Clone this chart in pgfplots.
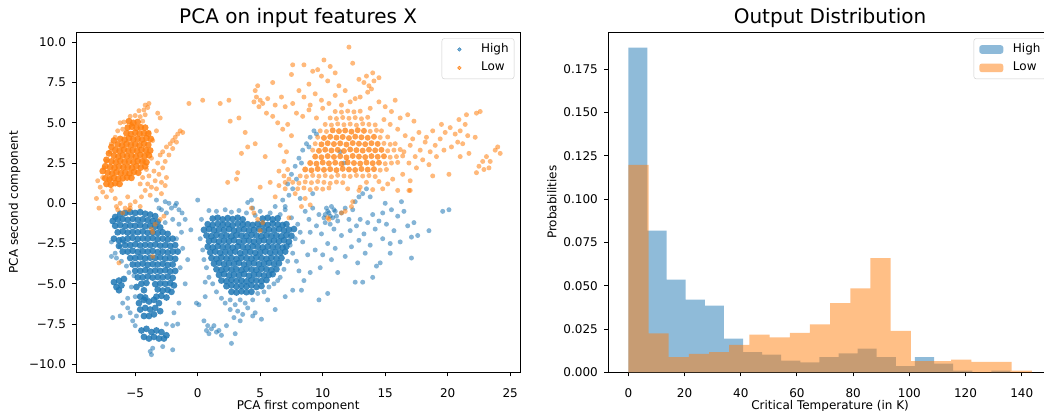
\documentclass[border=0pt]{standalone}
\usepackage{fontspec}
\setmainfont{DejaVu Sans}
\usepackage{pgfplots}
\pgfplotsset{compat=1.18}
\definecolor{c0}{HTML}{1F77B4}
\definecolor{c1}{HTML}{FF7F0E}
\pgfplotsset{
 every axis title shift=0pt,
 mpl/.style={
  scale only axis, width=443.7pt, height=340pt,
  axis line style={black, line width=0.9pt},
  tick align=outside, tick pos=left,
  major tick length=4.2pt,
  every tick/.style={black, line width=0.9pt},
  tick label style={font=\fontsize{12}{14}\selectfont, inner sep=0pt},
  xticklabel style={anchor=base, yshift=-21.2pt},
  yticklabel style={anchor=east, xshift=-6pt},
  label style={font=\fontsize{12}{14}\selectfont, inner sep=0pt},
  title style={font=\fontsize{20}{23}\selectfont, at={(axis description cs:0.5,1.0244)}, anchor=base, inner sep=0pt},
  xlabel style={at={(axis description cs:0.5,-0.108)}, anchor=base},
  legend cell align=left,
  legend style={at={(axis description cs:1,1)}, anchor=north east, xshift=-5.7pt, yshift=-6pt,
    draw=black!20, fill=white, rounded corners=2.5pt, inner xsep=5.5pt, inner ysep=5pt,
    row sep=6.4pt, column sep=9.6pt, font=\fontsize{12}{14}\selectfont,
    nodes={inner sep=0pt, text height=9pt, text depth=3pt}},
 },
 bluedot/.style 2 args={only marks, mark=*, color=c0, mark size=#1, mark options={fill=c0, fill opacity=#2, draw opacity=0}},
 orangedot/.style 2 args={only marks, mark=*, color=c1, mark size=#1, mark options={fill=c1, fill opacity=#2, draw opacity=0}},
}
\begin{document}
\begin{tikzpicture}
\useasboundingbox (0,0) rectangle (1044pt,411pt);
\clip (0,0) rectangle (1044pt,411pt);
\begin{axis}[mpl, at={(76.3pt,38.7pt)}, anchor=south west,
  xmin=-9.712, xmax=25.784, ymin=-10.497, ymax=10.621,
  xtick={-5,0,5,10,15,20,25}, xticklabels={−5,0,5,10,15,20,25},
  ytick={-10,-7.5,-5,-2.5,0,2.5,5,7.5,10},
  yticklabels={−10.0,−7.5,−5.0,−2.5,0.0,2.5,5.0,7.5,10.0},
  title={PCA on input features X},
  xlabel={PCA first component}, ylabel={PCA second component},
  ylabel style={at={(axis description cs:-0.1318,0.5)}, anchor=base},
]
% High: dense cores
\addplot[bluedot={3.4pt}{0.85}, forget plot] coordinates {
(1.2,-0.95)(1.6,-0.9)(2.0,-1.0)(2.4,-0.92)(2.8,-0.98)(3.2,-0.9)(3.6,-1.0)(5.2,-0.95)(5.6,-0.9)(6.0,-1.0)(6.4,-0.93)
(0.8,-1.3)(1.2,-1.35)(1.6,-1.28)(2.0,-1.33)(2.4,-1.3)(2.8,-1.36)(3.2,-1.27)(3.6,-1.32)(4.0,-1.3)(4.4,-1.35)(4.8,-1.28)(5.2,-1.3)(5.6,-1.34)(6.0,-1.27)(6.4,-1.31)(6.8,-1.35)(7.1,-1.3)
(0.5,-1.65)(0.9,-1.6)(1.3,-1.68)(1.7,-1.63)(2.1,-1.66)(2.5,-1.6)(2.9,-1.7)(3.3,-1.64)(3.7,-1.62)(4.1,-1.68)(4.5,-1.65)(4.9,-1.6)(5.3,-1.67)(5.7,-1.63)(6.1,-1.66)(6.5,-1.6)(6.9,-1.69)(7.3,-1.64)(7.7,-1.6)
(0.7,-2.0)(1.1,-2.04)(1.5,-1.97)(1.9,-2.02)(2.3,-2.0)(2.7,-2.05)(3.1,-1.98)(3.5,-2.01)(3.9,-2.03)(4.3,-1.97)(4.7,-2.0)(5.1,-2.04)(5.5,-1.99)(5.9,-2.02)(6.3,-2.0)(6.7,-2.05)(7.1,-1.98)(7.5,-2.02)
(0.9,-2.35)(1.3,-2.3)(1.7,-2.38)(2.1,-2.33)(2.5,-2.36)(2.9,-2.3)(3.3,-2.4)(3.7,-2.34)(4.1,-2.32)(4.5,-2.38)(4.9,-2.35)(5.3,-2.3)(5.7,-2.37)(6.1,-2.33)(6.5,-2.36)(6.9,-2.3)(7.3,-2.38)
(0.8,-2.7)(1.2,-2.74)(1.6,-2.67)(2.0,-2.72)(2.4,-2.7)(2.8,-2.75)(3.2,-2.68)(3.6,-2.71)(4.0,-2.73)(4.4,-2.67)(4.8,-2.7)(5.2,-2.74)(5.6,-2.69)(6.0,-2.72)(6.4,-2.7)(6.8,-2.75)(7.1,-2.68)
(1.0,-3.05)(1.4,-3.0)(1.8,-3.08)(2.2,-3.03)(2.6,-3.06)(3.0,-3.0)(3.4,-3.1)(3.8,-3.04)(4.2,-3.02)(4.6,-3.08)(5.0,-3.05)(5.4,-3.0)(5.8,-3.07)(6.2,-3.03)(6.6,-3.06)(7.0,-3.0)
(1.1,-3.4)(1.5,-3.44)(1.9,-3.37)(2.3,-3.42)(2.7,-3.4)(3.1,-3.45)(3.5,-3.38)(3.9,-3.41)(4.3,-3.43)(4.7,-3.37)(5.1,-3.4)(5.5,-3.44)(5.9,-3.39)(6.3,-3.42)(6.7,-3.4)
(1.3,-3.75)(1.7,-3.7)(2.1,-3.78)(2.5,-3.73)(2.9,-3.76)(3.3,-3.7)(3.7,-3.8)(4.1,-3.74)(4.5,-3.72)(4.9,-3.78)(5.3,-3.75)(5.7,-3.7)(6.1,-3.77)(6.5,-3.73)
(1.5,-4.1)(1.9,-4.14)(2.3,-4.07)(2.7,-4.12)(3.1,-4.1)(3.5,-4.15)(3.9,-4.08)(4.3,-4.11)(4.7,-4.13)(5.1,-4.07)(5.5,-4.1)(5.9,-4.14)(6.3,-4.09)
(1.7,-4.45)(2.1,-4.4)(2.5,-4.48)(2.9,-4.43)(3.3,-4.46)(3.7,-4.4)(4.1,-4.5)(4.5,-4.44)(4.9,-4.42)(5.3,-4.48)(5.7,-4.45)(6.0,-4.4)
(1.9,-4.8)(2.3,-4.84)(2.7,-4.77)(3.1,-4.82)(3.5,-4.8)(3.9,-4.85)(4.3,-4.78)(4.7,-4.81)(5.1,-4.83)(5.5,-4.77)
(2.3,-5.15)(2.7,-5.1)(3.1,-5.18)(3.5,-5.13)(3.9,-5.16)(4.3,-5.1)(4.7,-5.2)(5.1,-5.14)
(2.7,-5.5)(3.1,-5.54)(3.5,-5.47)(3.9,-5.52)(4.3,-5.5)
(-6.6,-0.85)(-6.2,-0.65)(-5.8,-0.6)(-5.4,-0.55)(-5.0,-0.6)(-4.6,-0.55)(-4.2,-0.65)(-3.8,-0.7)(-3.4,-0.8)
(-6.8,-1.1)(-6.4,-1.0)(-6.0,-0.98)(-5.6,-1.03)(-5.2,-0.97)(-4.8,-1.02)(-4.4,-1.0)(-4.0,-1.05)(-3.6,-1.1)(-3.2,-1.15)
(-6.6,-1.4)(-6.2,-1.35)(-5.8,-1.42)(-5.4,-1.38)(-5.0,-1.4)(-4.6,-1.36)(-4.2,-1.43)(-3.8,-1.4)(-3.4,-1.45)(-3.0,-1.5)
(-6.4,-1.8)(-6.0,-1.75)(-5.6,-1.82)(-5.2,-1.78)(-4.8,-1.8)(-4.4,-1.76)(-4.0,-1.83)(-3.6,-1.8)(-3.2,-1.85)(-2.8,-1.8)(-2.4,-1.9)
(-6.7,-2.2)(-6.3,-2.3)(-6.0,-2.25)(-5.6,-2.2)(-5.2,-2.15)(-4.8,-2.22)(-4.4,-2.18)(-4.0,-2.2)(-3.6,-2.16)(-3.2,-2.23)(-2.8,-2.2)(-2.4,-2.25)(-2.0,-2.2)
(-6.3,-2.65)(-5.8,-2.6)(-5.4,-2.6)(-5.0,-2.55)(-4.6,-2.62)(-4.2,-2.58)(-3.8,-2.6)(-3.4,-2.56)(-3.0,-2.63)(-2.6,-2.6)(-2.2,-2.65)(-1.8,-2.6)
(-6.0,-3.0)(-5.6,-3.0)(-5.2,-2.95)(-4.8,-3.02)(-4.4,-2.98)(-4.0,-3.0)(-3.6,-2.96)(-3.2,-3.03)(-2.8,-3.0)(-2.4,-3.05)(-2.0,-3.0)(-1.6,-3.0)
(-5.4,-3.4)(-5.0,-3.4)(-4.6,-3.35)(-4.2,-3.42)(-3.8,-3.38)(-3.4,-3.4)(-3.0,-3.36)(-2.6,-3.43)(-2.2,-3.4)(-1.8,-3.45)
(-5.2,-3.8)(-4.8,-3.8)(-4.4,-3.75)(-4.0,-3.82)(-3.6,-3.78)(-3.2,-3.8)(-2.8,-3.76)(-2.4,-3.83)(-2.0,-3.8)
(-5.0,-4.2)(-4.6,-4.2)(-4.2,-4.15)(-3.8,-4.22)(-3.4,-4.18)(-3.0,-4.2)(-2.6,-4.16)(-2.2,-4.23)(-1.8,-4.2)
(-4.8,-4.6)(-4.4,-4.6)(-4.0,-4.55)(-3.6,-4.62)(-3.2,-4.58)(-2.8,-4.6)(-2.4,-4.56)(-2.0,-4.63)
(-4.9,-5.2)(-4.5,-5.0)(-4.1,-4.95)(-3.4,-5.02)(-3.0,-4.98)(-2.6,-5.0)(-2.2,-4.96)(-1.9,-5.1)
(-4.3,-5.4)(-3.2,-5.35)(-2.8,-5.42)(-2.4,-5.38)(-2.1,-5.5)
(-4.6,-5.8)(-4.2,-5.85)(-3.3,-5.8)(-2.9,-5.75)(-2.5,-5.85)
(-4.7,-6.2)(-4.3,-6.0)(-3.9,-6.1)(-3.5,-6.0)(-3.1,-6.2)(-4.6,-6.6)(-4.2,-6.5)(-3.8,-6.6)(-3.4,-6.5)(-3.0,-6.7)(-4.3,-7.0)(-3.9,-7.0)(-3.5,-6.9)
(-4.5,-7.9)(-4.1,-7.8)(-3.7,-8.0)(-3.3,-7.9)(-2.9,-8.0)(-2.5,-8.2)(-4.3,-8.3)(-3.9,-8.4)(-3.5,-8.3)(-3.1,-8.4)(-2.7,-8.4)
(-6.7,-4.9)(-6.3,-4.8)(-6.5,-5.2)(-6.1,-5.1)(-6.3,-5.4)(-5.9,-4.7)
};
% High: sparse points
\addplot[bluedot={2.5pt}{0.55},
  legend image code/.code={\path[draw=none] (0pt,-4pt) rectangle (24pt,4pt); \fill[c0, fill opacity=0.55] (12pt,0pt) circle (1.8pt);}]
coordinates {
(-6.6,-3.1)
(0,0.2)(0.9,-0.45)(1.5,-0.5)(2.2,-0.4)(2.7,-0.55)(3.3,-0.45)(3.9,-0.6)(4.4,-0.3)(4.6,-0.75)(5.0,-0.5)(5.8,-0.6)(6.6,-0.7)(7.0,-0.4)(6.2,-0.2)(7.5,-0.9)(4.3,0.2)(4.0,0.05)
(0.3,-1.0)(0.2,-2.2)(0.4,-2.9)(0.5,-3.5)(0.7,-4.0)(0.9,-4.6)(1.2,-5.0)(0.6,-4.9)
(1.5,-5.5)(1.9,-5.9)(2.2,-6.2)(2.6,-6.0)(3.0,-6.3)(3.4,-6.0)(3.8,-6.2)(4.4,-6.0)(4.8,-5.6)(5.3,-5.5)(5.7,-5.2)(6.1,-5.0)(6.4,-4.8)(2.6,-6.6)(3.2,-6.7)(3.6,-6.9)(4.0,-6.5)(4.6,-6.8)(2.9,-7.1)(3.4,-7.3)(2.3,-7.6)(4.4,-7.0)(5.1,-7.2)(6.2,-6.6)(5.6,-6.0)(0.6,-5.8)(0.1,-6.3)
(0.5,-7.3)(0.8,-7.6)(1.1,-7.8)(1.5,-8.0)(0.9,-8.1)(1.3,-7.6)(1.7,-7.9)(1.9,-8.2)(2.7,-8.7)(3.0,-8.1)(0.7,-7.9)
(7.4,-2.6)(7.8,-2.2)(7.6,-3.1)(7.2,-3.6)(6.9,-4.1)(6.6,-4.6)(8.0,-1.3)(8.2,-1.8)(8.4,-2.4)(7.9,-3.6)(8.1,-4.2)(8.5,-4.8)(7.6,-5.4)(7.0,-5.8)(8.8,-3.2)(9.0,-4.3)(8.3,-5.4)
(8.6,-0.5)(8.9,-1.0)(9.2,-0.3)(9.5,-1.4)(9.0,-1.8)(9.7,-0.7)(9.9,-1.9)(10.2,-1.2)(10.5,-0.6)(10.8,-0.9)(10.3,-0.3)(10.7,-0.2)(11.0,-0.5)(11.2,-1.1)(10.1,-0.9)(10.6,-1.3)(10.9,-1.6)(11.5,-0.6)(11.8,-0.3)(12.1,-1.0)(12.4,-0.4)(12.6,0.1)(12.9,0.4)(13.2,0.6)(13.5,0.9)(13.8,0.4)(12.2,-1.7)(12.7,-1.4)(13.0,-1.0)(13.3,-1.9)(13.6,-1.2)(14.0,-0.7)(14.2,-1.6)(14.5,-1.1)(14.8,-0.6)(15.1,-1.3)(15.5,-0.4)(16.0,-0.8)(16.5,-0.5)(15.7,-1.7)(16.8,-1.4)(17.3,-1.2)(17.1,-2.1)(17.6,-2.0)(18.5,-1.7)(19.6,-0.5)(20.1,-0.4)(17.1,-3.4)(15.4,-2.5)(15.4,-3.1)(14.6,-3.7)(14.3,-3.9)(14.0,-4.6)(13.2,-4.9)(12.6,-4.9)(11.8,-3.3)(12.3,-2.7)(12.9,-2.3)(13.8,-2.6)(11.0,-2.8)(11.5,-2.0)(10.4,-2.5)(10.0,-3.2)(10.7,-3.5)(9.4,-2.9)(9.8,-4.0)(10.4,-5.6)(9.7,-6.0)(11.2,-4.3)(12.8,-3.7)(13.4,-3.1)(14.8,-2.2)(16.2,-2.4)(15.0,0.0)(16.3,0.1)
(10.4,-0.5)(10.6,-0.8)(10.9,-0.4)(10.2,-0.7)(11.1,-0.8)
(7.2,1.2)(7.5,1.8)(7.8,2.3)(8.1,2.8)(8.4,3.3)(8.7,3.7)(9.0,4.1)(9.3,4.5)(9.5,4.3)(8.9,3.5)(8.3,2.5)(7.9,1.5)(7.3,0.5)(7.6,0.9)(8.2,0.3)(9.2,0.6)(6.8,0.2)(7.0,-0.2)(11.7,2.5)(11.4,3.2)
(-6.9,-3.3)(-6.5,-3.4)(-6.1,-3.6)(-5.7,-3.9)(-5.5,-4.3)(-5.1,-4.5)(-5.3,-5.2)(-5.0,-5.8)(-6.9,-2.4)(-6.2,-2.7)(-5.9,-2.4)
(-6.0,-6.2)(-5.6,-6.5)(-5.4,-6.8)(-6.8,-7.1)(-5.2,-7.3)(-5.0,-7.6)(-6.2,-7.0)(-4.9,-7.0)(-5.6,-5.9)
(-3.7,-9.4)(-3.8,-9.2)(-3.6,-9.0)(-2.8,-8.9)(-2.0,-9.1)(-2.5,-7.5)(-2.0,-7.6)(-1.6,-7.5)(-1.9,-6.8)(-1.5,-6.2)
(-3.3,0.2)(-2.6,0.1)(-2.3,0)(-1.7,0)(-2.1,-0.3)(-1.8,-0.15)(-1.5,-0.4)(-2.5,-0.6)(-2.9,-0.4)(-3.1,-0.3)(-1.25,-0.6)(-1.0,-1.0)(-1.3,-1.8)(-1.5,-1.3)(-0.55,-1.65)(-2.0,-1.0)(-2.6,-1.2)(-1.7,-2.2)(-1.2,-2.8)(-1.0,-5.0)(-0.1,-6.2)(-1.4,-4.0)(-0.8,-3.5)
};
\addlegendentry{High}
% Low: dense cores
\addplot[orangedot={3.4pt}{0.85}, forget plot] coordinates {
(-7.3,1.2)(-6.95,1.15)(-6.6,1.25)(-6.25,1.2)
(-7.4,1.55)(-7.05,1.5)(-6.7,1.58)(-6.35,1.52)(-6.0,1.55)(-5.65,1.6)(-5.3,1.58)
(-7.6,2.0)(-7.2,1.9)(-6.85,1.85)(-6.5,1.93)(-6.15,1.88)(-5.8,1.9)(-5.45,1.86)(-5.1,1.95)(-4.75,1.9)
(-7.4,2.3)(-7.0,2.25)(-6.65,2.2)(-6.3,2.28)(-5.95,2.23)(-5.6,2.25)(-5.25,2.2)(-4.9,2.3)(-4.55,2.22)(-4.2,2.3)
(-7.3,2.7)(-6.9,2.6)(-6.55,2.55)(-6.2,2.63)(-5.85,2.58)(-5.5,2.6)(-5.15,2.56)(-4.8,2.63)(-4.45,2.6)(-4.1,2.55)
(-7.1,3.1)(-6.7,2.95)(-6.35,2.9)(-6.0,2.98)(-5.65,2.93)(-5.3,2.95)(-4.95,2.9)(-4.6,3.0)(-4.25,2.93)(-3.9,2.98)
(-6.9,3.5)(-6.6,3.3)(-6.25,3.25)(-5.9,3.33)(-5.55,3.28)(-5.2,3.3)(-4.85,3.26)(-4.5,3.33)(-4.15,3.3)(-3.8,3.28)
(-6.7,3.9)(-6.4,3.65)(-6.05,3.6)(-5.7,3.68)(-5.35,3.63)(-5.0,3.65)(-4.65,3.6)(-4.3,3.7)(-3.95,3.63)
(-6.2,4.0)(-5.85,3.95)(-5.5,4.03)(-5.15,3.98)(-4.8,4.0)(-4.45,3.96)(-4.1,4.05)(-3.75,4.0)
(-5.7,4.35)(-5.35,4.3)(-5.0,4.38)(-4.65,4.33)(-4.3,4.35)(-3.95,4.33)
(-5.6,4.7)(-5.25,4.75)(-4.9,4.68)(-4.55,4.72)(-4.2,4.7)
(-5.5,5.1)(-5.15,5.0)(-4.8,5.05)
};
\addplot[orangedot={3.0pt}{0.75}, forget plot] coordinates {
(8.6,2.1)(9.1,2.05)(9.6,2.13)(10.1,2.08)(10.6,2.12)(11.1,2.06)(11.6,2.14)(12.1,2.1)(12.6,2.07)(13.1,2.13)(13.6,2.09)(14.1,2.12)
(9.0,2.5)(9.5,2.46)(10.0,2.53)(10.5,2.48)(11.0,2.52)(11.5,2.45)(12.0,2.54)(12.5,2.5)(13.0,2.47)(13.5,2.53)(14.0,2.49)(14.5,2.52)
(9.4,2.9)(9.9,2.86)(10.4,2.93)(10.9,2.88)(11.4,2.92)(11.9,2.85)(12.4,2.94)(12.9,2.9)(13.4,2.87)(13.9,2.93)(14.4,2.89)(14.9,2.92)
(9.7,3.26)(10.2,3.33)(10.7,3.28)(11.2,3.32)(11.7,3.25)(12.2,3.34)(12.7,3.3)(13.2,3.27)(13.7,3.33)(14.2,3.29)(14.7,3.32)
(9.9,3.66)(10.4,3.73)(10.9,3.68)(11.4,3.72)(11.9,3.65)(12.4,3.74)(12.9,3.7)(13.4,3.67)(13.9,3.73)(14.4,3.69)
(10.1,4.06)(10.6,4.13)(11.1,4.08)(11.6,4.12)(12.1,4.05)(12.6,4.14)(13.1,4.1)(13.6,4.07)(14.1,4.13)
(10.8,4.53)(11.3,4.48)(11.8,4.52)(12.3,4.45)(12.8,4.54)(13.3,4.5)
};
% Low: other points
\addplot[orangedot={2.5pt}{0.55},
  legend image code/.code={\path[draw=none] (0pt,-4pt) rectangle (24pt,4pt); \fill[c1, fill opacity=0.55] (12pt,0pt) circle (1.8pt);}]
coordinates {
(-5.9,5.05)(-4.4,5.1)(-5.4,5.4)(-5.0,5.45)(-4.6,5.38)(-4.2,5.5)
(-4.7,5.75)(-4.3,5.8)(-4.0,5.95)(-3.9,6.2)(-4.2,6.1)
(-7.8,1.0)(-7.6,0.7)(-8.1,0.3)(-7.9,-0.3)(-7.3,0.4)(-6.9,0.8)(-6.6,0.3)(-6.2,0.0)(-5.8,-0.3)(-5.4,-0.1)(-5.0,0.1)(-4.6,-0.2)(-5.6,0.4)(-6.4,-0.4)(-7.0,1.5)(-7.6,1.6)(-8.0,1.4)(-7.5,2.2)(-7.3,2.6)(-7.0,3.2)(-6.9,3.7)(-6.6,4.1)(-6.4,4.5)(-6.0,4.6)(-6.2,5.0)(-5.3,4.9)
(-4.0,1.2)(-3.7,1.0)(-3.4,1.4)(-3.9,1.7)(-3.5,2.0)(-3.1,1.8)(-3.2,2.5)(-2.8,2.2)(-2.9,1.3)(-2.5,1.6)(-2.6,2.6)(-2.3,3.0)(-2.2,3.7)(-2.0,3.9)(-1.8,4.1)(-1.6,4.3)(-1.4,4.5)(-1.2,4.4)(-2.5,3.5)(-2.8,3.2)(-3.0,3.0)(-2.0,3.4)(-1.7,3.8)(-3.6,3.9)(-3.3,4.5)(-3.0,5.3)(-3.2,5.6)(-3.9,4.4)(-4.0,3.1)(-4.3,2.6)(-4.1,2.1)(-3.7,2.8)(-4.4,1.6)(-4.6,1.2)(-4.2,0.8)(-3.8,0.5)(-4.5,0.4)(-3.3,0.9)(-2.6,1.1)(-2.9,0.6)
(-3.6,-1.8)(-3.6,-3.3)(-6.3,-3.7)(-5.5,-0.4)(-6.5,-0.2)(-3.7,-1.6)(-3.4,-1.3)(-3.0,-1.0)(-2.7,-0.8)(-6.0,-0.6)(-5.4,-0.3)
(4.8,-1.0)(5.2,-1.2)(5.0,-1.7)(4.5,-0.6)(4.3,-0.3)(7.3,-0.9)(8.3,-0.2)(9.0,-0.1)(10.4,-0.9)(10.5,-1.0)(11.5,-0.6)(11.8,-0.5)(12.3,-0.2)(8.6,0.3)(12.4,0.1)(12.9,0.8)(16.0,0.8)(17.0,0.8)
(8.0,0.9)(8.5,0.95)(9.0,0.85)(9.5,0.92)(10.0,0.88)(10.5,0.95)(12.0,0.9)(13.0,1.0)(14.0,0.85)
(7.6,1.3)(8.1,1.25)(8.6,1.33)(9.1,1.28)(9.6,1.35)(10.1,1.3)(10.6,1.24)(11.1,1.32)(11.6,1.28)(13.5,1.3)(14.5,1.35)
(8.2,1.7)(8.7,1.66)(9.2,1.73)(9.7,1.68)(10.2,1.72)(10.7,1.65)(11.2,1.74)(11.7,1.7)(12.2,1.67)(12.7,1.73)(13.2,1.69)(13.7,1.72)(14.2,1.66)
(14.6,2.06)(15.1,2.1)(15.0,2.46)(15.5,2.5)(16.0,2.54)(15.4,2.86)(15.9,2.9)(16.4,2.94)
(9.2,3.3)(15.2,3.26)(15.7,3.3)(16.2,3.34)(9.4,3.7)(14.9,3.72)(15.4,3.66)(15.8,3.7)
(9.6,4.1)(14.6,4.09)(15.2,4.12)
(9.8,4.5)(10.3,4.46)(13.8,4.47)(14.3,4.53)(14.7,4.5)
(10.2,4.9)(10.7,4.86)(11.2,4.93)(11.7,4.88)(12.2,4.92)(12.7,4.85)(13.2,4.94)(13.7,4.9)(14.2,4.87)
(10.6,5.3)(11.1,5.26)(11.6,5.33)(12.1,5.28)(12.6,5.32)(13.1,5.25)(13.6,5.34)
(11.0,5.7)(11.5,5.66)(12.0,5.73)(12.5,5.68)(13.0,5.72)
(12.1,9.7)(10.1,8.9)(12.4,8.7)(7.6,8.6)(8.5,8.6)(9.2,8.2)(9.6,8.3)(10.6,8.5)(11.0,8.1)(9.9,7.9)(7.5,8.0)(8.9,7.4)(10.4,7.6)(11.3,7.3)(11.8,7.0)(12.9,7.7)(13.5,7.9)(13.3,7.5)(13.7,7.3)(14.1,7.6)(13.9,7.1)(13.6,6.9)(14.0,8.1)(14.5,7.8)(12.6,6.5)(13.0,6.6)(12.2,6.3)(11.5,6.1)(11.0,6.7)(10.5,6.2)(9.9,6.4)(9.4,6.8)(9.0,6.1)(8.5,6.6)(8.1,7.0)(7.6,6.2)(7.0,6.0)(6.7,6.6)(7.9,5.6)(8.4,5.4)(8.9,5.8)(9.5,5.3)(10.0,5.9)(14.5,6.3)(15.0,6.0)(15.5,5.7)(16.2,5.3)(16.8,5.5)(17.3,5.1)(15.8,6.4)(14.9,5.2)(15.4,4.9)(16.0,4.6)(16.6,4.2)(13.8,5.9)
(4.6,7.0)(4.8,7.3)(4.7,6.6)(5.0,6.4)(4.9,6.0)(5.2,6.2)(4.5,6.3)(5.6,6.5)(6.2,6.1)(6.0,5.4)(5.5,5.6)(6.4,5.0)(6.8,4.6)(7.2,4.9)(7.5,4.2)(3.3,5.3)(2.6,5.1)(1.8,6.2)(0.4,6.4)(-0.7,6.2)(2.5,6.4)(3.8,4.4)(4.0,3.5)(4.6,3.7)(5.4,2.9)(3.2,1.9)(2.4,1.3)(3.1,1.5)(5.0,1.0)(6.2,0.4)(5.8,1.3)(6.5,2.0)(6.9,2.6)(7.1,3.2)(6.6,3.6)(7.3,1.5)(7.0,0.9)(7.8,0.6)(3.5,3.1)(6.0,7.5)(6.5,1.1)(6.9,1.7)(7.2,2.1)(7.0,1.3)
(16.5,3.2)(17.0,3.6)(17.4,2.9)(17.8,3.3)(18.2,3.8)(18.6,3.2)(19.0,3.6)(19.4,4.0)(19.8,4.4)(20.2,4.7)(20.6,4.3)(21.0,4.5)(21.4,4.9)(20.9,5.2)(21.5,5.5)(22.3,5.6)(22.6,5.7)(19.5,4.9)(18.8,4.5)(18.3,4.1)(17.7,4.4)(17.2,4.0)(16.9,2.5)(17.5,2.2)(18.0,2.7)(18.5,2.4)(19.1,2.9)(19.7,3.3)(20.3,3.5)(20.8,3.8)(21.2,3.7)(21.6,4.2)(22.2,4.1)(17.0,1.4)(16.4,1.8)(18.8,1.7)(20.1,1.8)(16.9,0.8)(15.6,1.5)(15.2,1.2)(14.8,0.9)(22.3,1.9)(22.5,2.3)(22.8,2.6)(23.1,2.9)(23.4,2.6)(23.8,3.3)(24.0,3.5)(24.2,3.1)(22.9,2.1)(23.3,2.2)(21.7,3.1)(21.0,2.9)
};
\addlegendentry{Low}
\end{axis}
\begin{axis}[mpl, at={(608.2pt,38.7pt)}, anchor=south west,
  xmin=-7.18, xmax=150.75, ymin=0, ymax=0.1964,
  xtick={0,20,40,60,80,100,120,140}, xticklabels={0,20,40,60,80,100,120,140},
  ytick={0,0.025,0.05,0.075,0.1,0.125,0.15,0.175},
  yticklabels={0.000,0.025,0.050,0.075,0.100,0.125,0.150,0.175},
  title={Output Distribution},
  xlabel={Critical Temperature (in K)}, ylabel={Probabilities},
  ylabel style={at={(axis description cs:-0.117,0.5)}, anchor=base},
]
\addplot[ybar interval, fill=c0, fill opacity=0.5, draw=none,
  legend image code/.code={\fill[c0, fill opacity=0.5] (0pt,-4.3pt) rectangle (24pt,4.3pt);}]
coordinates {(0,0.1875)(6.8,0.0818)(13.6,0.0535)(20.4,0.0420)(27.2,0.0385)(34,0.0194)(40.8,0.0117)(47.6,0.0102)(54.4,0.0067)(61.2,0.0058)(68,0.0087)(74.8,0.0110)(81.6,0.0137)(88.4,0.0087)(95.2,0.0036)(102,0.0087)(108.8,0.0050)(115.6,0.0009)(122.4,0)(129.2,0.0009)(136,0)};
\addlegendentry{High}
\addplot[ybar interval, fill=c1, fill opacity=0.5, draw=none,
  legend image code/.code={\fill[c1, fill opacity=0.5] (0pt,-4.3pt) rectangle (24pt,4.3pt);}]
coordinates {(0,0.1198)(7.18,0.0225)(14.36,0.0088)(21.54,0.0107)(28.72,0.0117)(35.9,0.0158)(43.08,0.0217)(50.26,0.0202)(57.44,0.0227)(64.62,0.0277)(71.8,0.0399)(78.98,0.0485)(86.16,0.0659)(93.34,0.0239)(100.52,0.0065)(107.7,0.0065)(114.88,0.0073)(122.06,0.0060)(129.24,0.0060)(136.42,0.0009)(143.6,0)};
\addlegendentry{Low}
\end{axis}
\end{tikzpicture}
\end{document}
